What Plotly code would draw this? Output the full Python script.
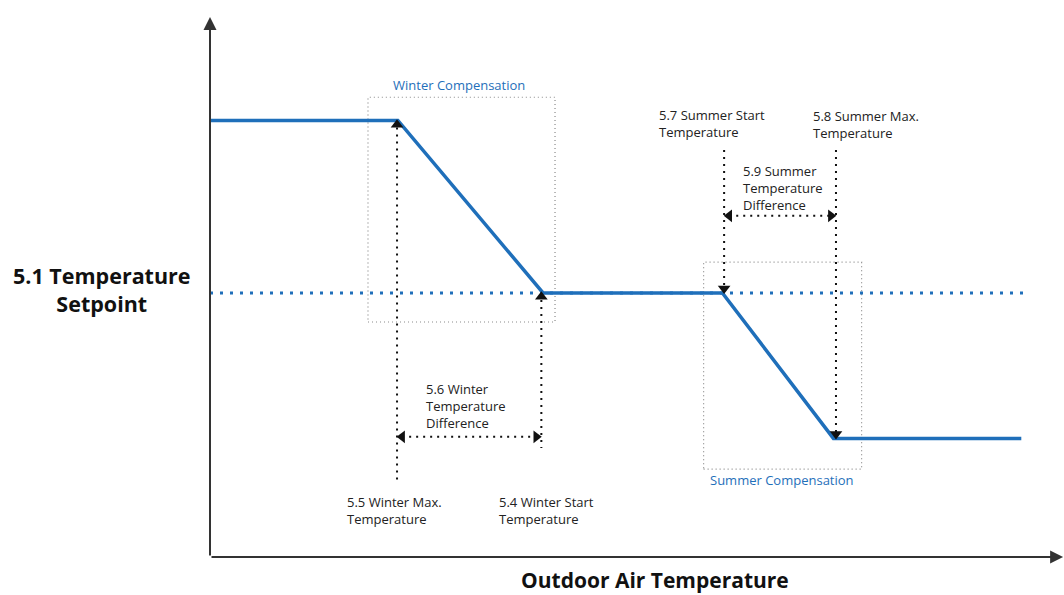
import plotly.graph_objects as go

# Schematic units: x = outdoor air temperature, y = setpoint (0..100 each)
curve_x = [0, 22, 39, 60, 73, 95]
curve_y = [81, 81, 49, 49, 22, 22]

setpoint_y = 49
setpoint_x = [0, 96]

winter_max_x = 21.9
winter_start_x = 38.8
summer_start_x = 60.2
summer_max_x = 73.3

winter_box_x = [18.5, 40.4]
winter_box_y = [43.6, 85.3]
summer_box_x = [57.8, 76.3]
summer_box_y = [16.3, 54.7]

winter_diff_y = 22.3
summer_diff_y = 63.3

BLUE = "#1f6fba"
FONT = "'Open Sans', Lato, sans-serif"
SMALL = dict(size=13, color="#222")

fig = go.Figure()

# compensation boxes
for bx, by in [(winter_box_x, winter_box_y), (summer_box_x, summer_box_y)]:
    fig.add_trace(go.Scatter(
        x=[bx[0], bx[1], bx[1], bx[0], bx[0]],
        y=[by[0], by[0], by[1], by[1], by[0]],
        mode="lines", line=dict(color="#8a8a8a", width=1.2, dash="1px,3px"),
        hoverinfo="skip"))

# setpoint dotted line
fig.add_trace(go.Scatter(
    x=setpoint_x, y=[setpoint_y, setpoint_y], mode="lines",
    line=dict(color=BLUE, width=3, dash="3px,7px"), hoverinfo="skip"))

# vertical dotted guides
guides = [
    (winter_max_x, 81, 13.7),
    (winter_start_x, 49, 20.2),
    (summer_start_x, 75.5, 49),
    (summer_max_x, 75.5, 22),
]
for gx, y0, y1 in guides:
    fig.add_trace(go.Scatter(
        x=[gx, gx], y=[y0, y1], mode="lines",
        line=dict(color="#111", width=2, dash="2px,5px"), hoverinfo="skip"))

# difference arrows
for (x0, x1, yy) in [(winter_max_x, winter_start_x, winter_diff_y),
                     (summer_start_x, summer_max_x, summer_diff_y)]:
    fig.add_trace(go.Scatter(
        x=[x0 + 0.6, x1 - 0.6], y=[yy, yy], mode="lines",
        line=dict(color="#111", width=2, dash="2px,5px"), hoverinfo="skip"))
    fig.add_trace(go.Scatter(
        x=[x0 + 0.6, x1 - 0.6], y=[yy, yy], mode="markers",
        marker=dict(symbol=["triangle-left", "triangle-right"], size=11, color="#111"),
        hoverinfo="skip"))

# main curve
fig.add_trace(go.Scatter(
    x=curve_x, y=curve_y, mode="lines",
    line=dict(color=BLUE, width=3.5), hoverinfo="skip"))

# triangle markers on curve
fig.add_trace(go.Scatter(
    x=[winter_max_x, winter_start_x], y=[80.2, 48.3], mode="markers",
    marker=dict(symbol="triangle-up", size=11, color="#111"), hoverinfo="skip"))
fig.add_trace(go.Scatter(
    x=[summer_start_x, summer_max_x], y=[49.8, 22.8], mode="markers",
    marker=dict(symbol="triangle-down", size=11, color="#111"), hoverinfo="skip"))

annotations = [
    # axes arrows
    dict(x=0, y=100.2, ax=0, ay=0, xref="x", yref="y", axref="x", ayref="y",
         showarrow=True, arrowhead=2, arrowsize=1.3, arrowwidth=2, arrowcolor="#333", text=""),
    dict(x=99.9, y=0, ax=0, ay=0, xref="x", yref="y", axref="x", ayref="y",
         showarrow=True, arrowhead=2, arrowsize=1.3, arrowwidth=2, arrowcolor="#333", text=""),
    dict(x=29.2, y=87.6, text="Winter Compensation", showarrow=False,
         font=dict(color=BLUE, size=13), xanchor="center", yanchor="middle"),
    dict(x=67.0, y=14.3, text="Summer Compensation", showarrow=False,
         font=dict(color=BLUE, size=13), xanchor="center", yanchor="middle"),
    dict(x=25.1, y=33.3, text="5.6 Winter<br>Temperature<br>Difference", showarrow=False,
         align="left", xanchor="left", yanchor="top", font=SMALL),
    dict(x=15.8, y=12.3, text="5.5 Winter Max.<br>Temperature", showarrow=False,
         align="left", xanchor="left", yanchor="top", font=SMALL),
    dict(x=33.6, y=12.3, text="5.4 Winter Start<br>Temperature", showarrow=False,
         align="left", xanchor="left", yanchor="top", font=SMALL),
    dict(x=52.3, y=84.0, text="5.7 Summer Start<br>Temperature", showarrow=False,
         align="left", xanchor="left", yanchor="top", font=SMALL),
    dict(x=70.4, y=83.8, text="5.8 Summer Max.<br>Temperature", showarrow=False,
         align="left", xanchor="left", yanchor="top", font=SMALL),
    dict(x=62.2, y=73.6, text="5.9 Summer<br>Temperature<br>Difference", showarrow=False,
         align="left", xanchor="left", yanchor="top", font=SMALL),
    dict(x=-0.127, y=0.497, xref="paper", yref="paper",
         text="<b>5.1 Temperature<br>Setpoint</b>", showarrow=False,
         align="center", xanchor="center", yanchor="middle",
         font=dict(size=21.5, color="#111")),
    dict(x=0.521, y=-0.0425, xref="paper", yref="paper",
         text="<b>Outdoor Air Temperature</b>", showarrow=False,
         xanchor="center", yanchor="middle", font=dict(size=21, color="#111")),
]

fig.update_layout(
    width=1064, height=595,
    margin=dict(l=210, r=0, t=18, b=38),
    plot_bgcolor="white", paper_bgcolor="white",
    showlegend=False,
    font=dict(family=FONT),
    xaxis=dict(range=[0, 100], visible=False, fixedrange=True),
    yaxis=dict(range=[0, 100], visible=False, fixedrange=True),
    annotations=annotations,
)
for tr in fig.data:
    tr.cliponaxis = False

fig.write_html("out.html", config={"displayModeBar": False},
               post_script="document.body.style.margin='0';")
